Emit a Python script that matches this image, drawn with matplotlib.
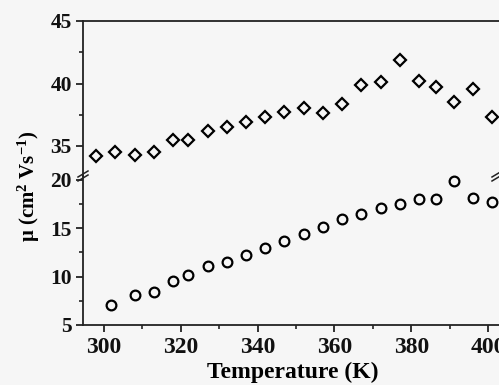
"""Mobility vs temperature with a broken y axis"""

import matplotlib
matplotlib.use("Agg")
import matplotlib.pyplot as plt
from matplotlib.ticker import MultipleLocator

plt.rcParams["font.family"] = ["Liberation Serif", "DejaVu Serif"]
plt.rcParams["font.weight"] = "bold"
plt.rcParams["mathtext.fontset"] = "custom"
plt.rcParams["mathtext.rm"] = "Liberation Serif"
plt.rcParams["mathtext.it"] = "Liberation Serif:italic"
plt.rcParams["mathtext.default"] = "rm"

# diamonds (upper panel)
temp_d = [298, 303, 308, 313, 318, 322, 327, 332, 337, 342, 347,
          352, 357, 362, 367, 372, 377, 382, 386.5, 391, 396, 401]
mu_d = [34.2, 34.5, 34.3, 34.55, 35.5, 35.5, 36.2, 36.5, 36.95, 37.35, 37.7,
        38.05, 37.65, 38.4, 39.9, 40.1, 41.9, 40.2, 39.75, 38.5, 39.6, 37.35]

# circles (lower panel)
temp_c = [302, 308, 313, 318, 322, 327, 332, 337, 342, 347,
          352, 357, 362, 367, 372, 377, 382, 386.5, 391, 396, 401]
mu_c = [7.05, 8.15, 8.45, 9.5, 10.15, 11.05, 11.55, 12.25, 12.95, 13.7,
        14.4, 15.15, 15.95, 16.5, 17.1, 17.5, 18.0, 18.0, 19.9, 18.1, 17.7]

bg = "#f6f6f6"
fig = plt.figure(figsize=(4.99, 3.85), dpi=100, facecolor=bg)

left, right = 83 / 499, 502 / 499
y_top, y_brk, y_bot = 1 - 21 / 385, 1 - 176 / 385, 1 - 325 / 385
ax_hi = fig.add_axes([left, y_brk, right - left, y_top - y_brk], facecolor="none")
ax_lo = fig.add_axes([left, y_bot, right - left, y_brk - y_bot], facecolor="none")

xlim = (294.6, 403.6)
for ax in (ax_hi, ax_lo):
    ax.set_xlim(*xlim)
    ax.spines["right"].set_visible(False)
    for s in ax.spines.values():
        s.set_linewidth(1.3)
        s.set_color("#222222")
    ax.xaxis.set_major_locator(MultipleLocator(20))
    ax.xaxis.set_minor_locator(MultipleLocator(10))
    ax.tick_params(which="major", direction="out", length=5, width=1.2,
                   labelsize=15.5, pad=3, colors="#111111")
    ax.tick_params(which="minor", direction="out", length=3, width=1.1, colors="#111111")
    ax.tick_params(axis="x", labelsize=17, pad=3.5)

ax_hi.plot(temp_d, mu_d, linestyle="none", marker="D", ms=6.2, mfc="none",
           mec="black", mew=1.6, clip_on=False)
ax_hi.set_ylim(32.6, 45)
ax_hi.yaxis.set_major_locator(MultipleLocator(5))
ax_hi.yaxis.set_minor_locator(MultipleLocator(2.5))
ax_hi.set_yticks([35, 40, 45])
ax_hi.spines["bottom"].set_visible(False)
ax_hi.tick_params(axis="x", which="both", bottom=False, labelbottom=False)

ax_lo.plot(temp_c, mu_c, linestyle="none", marker="o", ms=7, mfc="none",
           mec="black", mew=1.6, clip_on=False)
ax_lo.set_ylim(5, 20.4)
ax_lo.yaxis.set_major_locator(MultipleLocator(5))
ax_lo.yaxis.set_minor_locator(MultipleLocator(2.5))
ax_lo.spines["top"].set_visible(False)

# break marks
for xb in (83, 497):
    for dy in (-2, 2):
        x0, x1 = (xb - 5) / 499, (xb + 5) / 499
        yc = y_brk + dy / 385
        fig.add_artist(plt.Line2D([x0, x1], [yc - 3 / 385, yc + 3 / 385],
                                  color="#222222", lw=1.1))

ax_lo.set_xlabel("Temperature (K)", fontsize=17, fontweight="bold", labelpad=3)
fig.text(0.058, 0.515, r"μ (cm$^{2}$ Vs$^{-1}$)", rotation=90, fontsize=15,
         fontweight="bold", ha="center", va="center")

fig.savefig("out.png", dpi=100, facecolor=bg)
